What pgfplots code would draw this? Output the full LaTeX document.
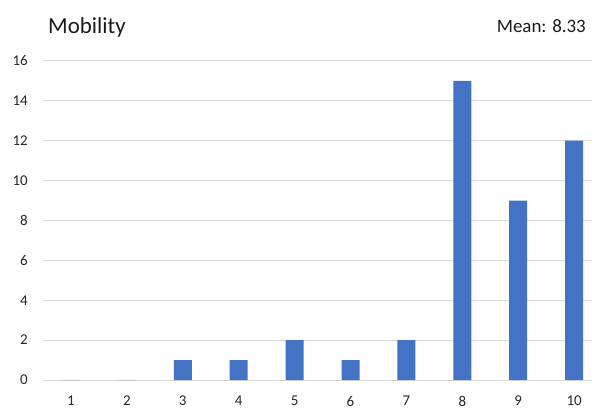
\documentclass[border=0pt]{standalone}
\usepackage{pgfplots}
\pgfplotsset{compat=1.18}
\usepackage{fontspec}
\setmainfont{Carlito}
\definecolor{barblue}{HTML}{4472C4}
\definecolor{gridgrey}{HTML}{D9D9D9}
\definecolor{txt}{HTML}{1A1A1A}
\definecolor{ticktxt}{HTML}{262626}
\begin{document}
\begin{tikzpicture}[x=1bp,y=1bp]
\begin{axis}[
  at={(43bp,29bp)}, anchor=south west,
  scale only axis,
  width=549bp, height=319bp,
  xmin=0.5, xmax=10.32,
  ymin=0, ymax=16,
  ytick={0,2,...,16},
  xtick={1,...,10},
  axis line style={draw=none},
  major tick length=0pt,
  ymajorgrids,
  grid style={gridgrey, line width=1bp},
  tick label style={font=\fontsize{15}{17}\selectfont, text=ticktxt, inner sep=0pt},
  yticklabel style={anchor=east, xshift=-15bp},
  xticklabel style={anchor=north, yshift=-16bp},
  /pgf/number format/assume math mode=true,
  clip=false,
]
\addplot[ybar, bar width=18bp, fill=barblue, draw=none] coordinates {
  (1,0) (2,0) (3,1) (4,1) (5,2) (6,1) (7,2) (8,15) (9,9) (10,12)
};
\end{axis}
\node[anchor=base west, inner sep=0pt, text=txt, font=\fontsize{23}{26}\selectfont] at (48,376) {Mobility};
\node[anchor=base east, inner sep=0pt, text=txt, font=\fontsize{19}{22}\selectfont] at (586,377) {Mean: 8.33};
\pgfresetboundingbox
\path[use as bounding box] (0,0) rectangle (592,409);
\end{tikzpicture}
\end{document}
